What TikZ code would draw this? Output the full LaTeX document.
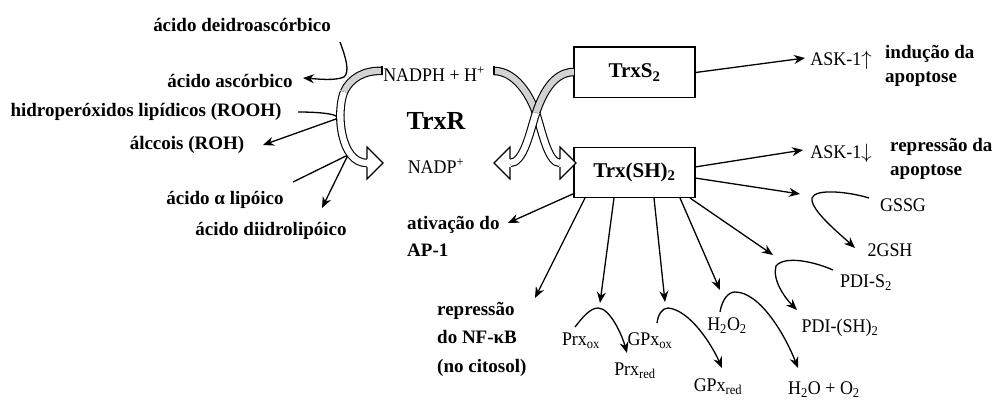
\documentclass[tikz,border=0pt]{standalone}
\usepackage{fontspec}
\setmainfont{Liberation Serif}
\newfontfamily\condserif[FakeStretch=0.93]{Liberation Serif}
\usetikzlibrary{arrows.meta}
\begin{document}
\begin{tikzpicture}[x=1pt,y=-1pt,
 lbl/.style={font=\condserif\fontsize{19.3}{21}\selectfont, inner sep=0pt},
 blbl/.style={font=\fontsize{19}{21}\selectfont\bfseries, inner sep=0pt},
 ar/.style={line width=1.3pt, -{Stealth[length=11pt,width=9pt]}},
 band/.style={line width=1.1pt, double distance=6.3pt, double=white},
 gband/.style={band, double=gray!35},
 bhead/.style={fill=white, line width=1.1pt, line join=miter},
 boxn/.style={draw, line width=1.2pt, minimum width=121pt, minimum height=50pt, inner sep=0pt, font=\fontsize{21}{23}\selectfont\bfseries}]
\useasboundingbox (0,0) rectangle (1002,401);

% left-side labels
\node[blbl] (dha) at (242,25) {ácido deidroascórbico};
\node[blbl] (asc) at (230,81) {ácido ascórbico};
\node[blbl] (rooh) at (146,112) {hidroperóxidos lipídicos (ROOH)};
\node[blbl] (roh) at (187,145) {álccois (ROH)};
\node[blbl] (lip) at (225,200) {ácido α lipóico};
\node[blbl] (dhl) at (271,231) {ácido diidrolipóico};

% centre
\node[lbl] (nadph) at (434,74) {NADPH + H\textsuperscript{+}};
\node[font=\fontsize{26}{28}\selectfont\bfseries, inner sep=0pt] (trxr) at (436,121) {TrxR};
\node[lbl] (nadp) at (436,166) {NADP\textsuperscript{+}};

% boxes
\node[boxn] (trxs) at (634.5,72.5) {TrxS\textsubscript{2}};
\draw[line width=2.6pt] (trxs.north west) -- (trxs.north east);
\node[boxn] (trxsh) at (634.5,172.5) {Trx(SH)\textsubscript{2}};

% right labels
\node[lbl] (ask1) at (841,60) {ASK-1$\uparrow$};
\node[font=\fontsize{19}{24}\selectfont\bfseries, inner sep=0pt, align=left, anchor=west] (ind) at (885,66) {indução da\\apoptose};
\node[lbl] (ask2) at (841,153) {ASK-1$\downarrow$};
\node[font=\fontsize{19}{24}\selectfont\bfseries, inner sep=0pt, align=left, anchor=west] (rep) at (890,159) {repressão da\\apoptose};
\node[lbl] (gssg) at (903,205) {GSSG};
\node[lbl] (gsh) at (890,250) {2GSH};
\node[lbl] (pdis) at (866,283) {PDI-S\textsubscript{2}};
\node[lbl] (pdish) at (840,328) {PDI-(SH)\textsubscript{2}};
\node[lbl] (h2o2) at (727,326) {H\textsubscript{2}O\textsubscript{2}};
\node[lbl] (h2o) at (824,390) {H\textsubscript{2}O + O\textsubscript{2}};
\node[lbl] (gpxox) at (650,341) {GPx\textsubscript{ox}};
\node[lbl] (gpxred) at (718,387) {GPx\textsubscript{red}};
\node[lbl] (prxox) at (581,341) {Prx\textsubscript{ox}};
\node[lbl] (prxred) at (635,371) {Prx\textsubscript{red}};
\node[font=\fontsize{19}{27}\selectfont\bfseries, inner sep=0pt, align=left, anchor=west] (ap1) at (407,236) {ativação do\\AP-1};
\node[font=\fontsize{19}{28.5}\selectfont\bfseries, inner sep=0pt, align=left, anchor=west] (nfkb) at (437,339) {repressão\\do NF-κB\\(no citosol)};

% coordinates for free ends
\coordinate (tA) at (805,58);
\coordinate (s2) at (695,167);  \coordinate (tB) at (803,150);
\coordinate (s3) at (695,178);  \coordinate (tC) at (800,194);
\coordinate (s4) at (690,198);  \coordinate (tD) at (773,255);
\coordinate (s5) at (680,198);  \coordinate (tE) at (720,290);
\coordinate (s6) at (654,198);  \coordinate (tF) at (665,302);
\coordinate (s7) at (614,198);  \coordinate (tG) at (600,303);
\coordinate (s8) at (585,198);  \coordinate (tH) at (535,298);
\coordinate (s9) at (575,193);  \coordinate (tI) at (508,223);

% straight arrows from boxes
\draw[ar] (trxs.east) -- (tA);
\draw[ar] (s2) -- (tB);
\draw[ar] (s3) -- (tC);
\draw[ar] (s4) -- (tD);
\draw[ar] (s5) -- (tE);
\draw[ar] (s6) -- (tF);
\draw[ar] (s7) -- (tG);
\draw[ar] (s8) -- (tH);
\draw[ar] (s9) -- (tI);

% small reaction curves
\draw[ar] (869,198) .. controls (850,192) and (815,188) .. (812,198) .. controls (810,210) and (840,234) .. (855,248);
\draw[ar] (833,270) .. controls (815,262) and (785,255) .. (776,266) .. controls (772,280) and (785,298) .. (797,310);
\draw[ar] (720,312) .. controls (722,300) and (728,292) .. (735,292) .. controls (760,292) and (785,335) .. (798,368);
\draw[ar] (657,323) .. controls (658,315) and (662,308) .. (668,308) .. controls (690,310) and (712,345) .. (722,368);
\draw[ar] (575,327) .. controls (582,318) and (590,308) .. (598,308) .. controls (610,308) and (622,335) .. (627,353);

% left side reactions
\draw[ar] (340,42) .. controls (346,58) and (350,72) .. (344,77) .. controls (335,81) and (318,79) .. (303,78);
\draw[ar] (298,112) .. controls (325,112) and (342,115) .. (336,119) -- (263,145);
\draw[ar] (293,182) -- (348,155) -- (322,208);

% left band arrow
\draw[gband] (382,71) .. controls (365,70) and (350,78) .. (344,92);
\draw[band] (344,92) .. controls (336,112) and (340,163) .. (367,163);
\draw[line width=1.1pt] (382,66.5) -- (382,75.5);
\filldraw[bhead] (367,158.8) -- (367,147) -- (383,163) -- (367,179) -- (367,167.2);

% crossing band arrows
\draw[gband] (494,71) .. controls (515,71) and (530,95) .. (536,113);
\draw[gband] (574,72) .. controls (553,72) and (542,95) .. (536,113);
\draw[band] (536,113) .. controls (542,131) and (548,163) .. (560,163);
\draw[band] (536,113) .. controls (530,131) and (524,163) .. (510,163);
\draw[line width=1.1pt] (494,66.5) -- (494,75.5);
\filldraw[bhead] (560,158.8) -- (560,147) -- (576,163) -- (560,179) -- (560,167.2);
\filldraw[bhead] (510,158.8) -- (510,147) -- (494,163) -- (510,179) -- (510,167.2);
\end{tikzpicture}
\end{document}
